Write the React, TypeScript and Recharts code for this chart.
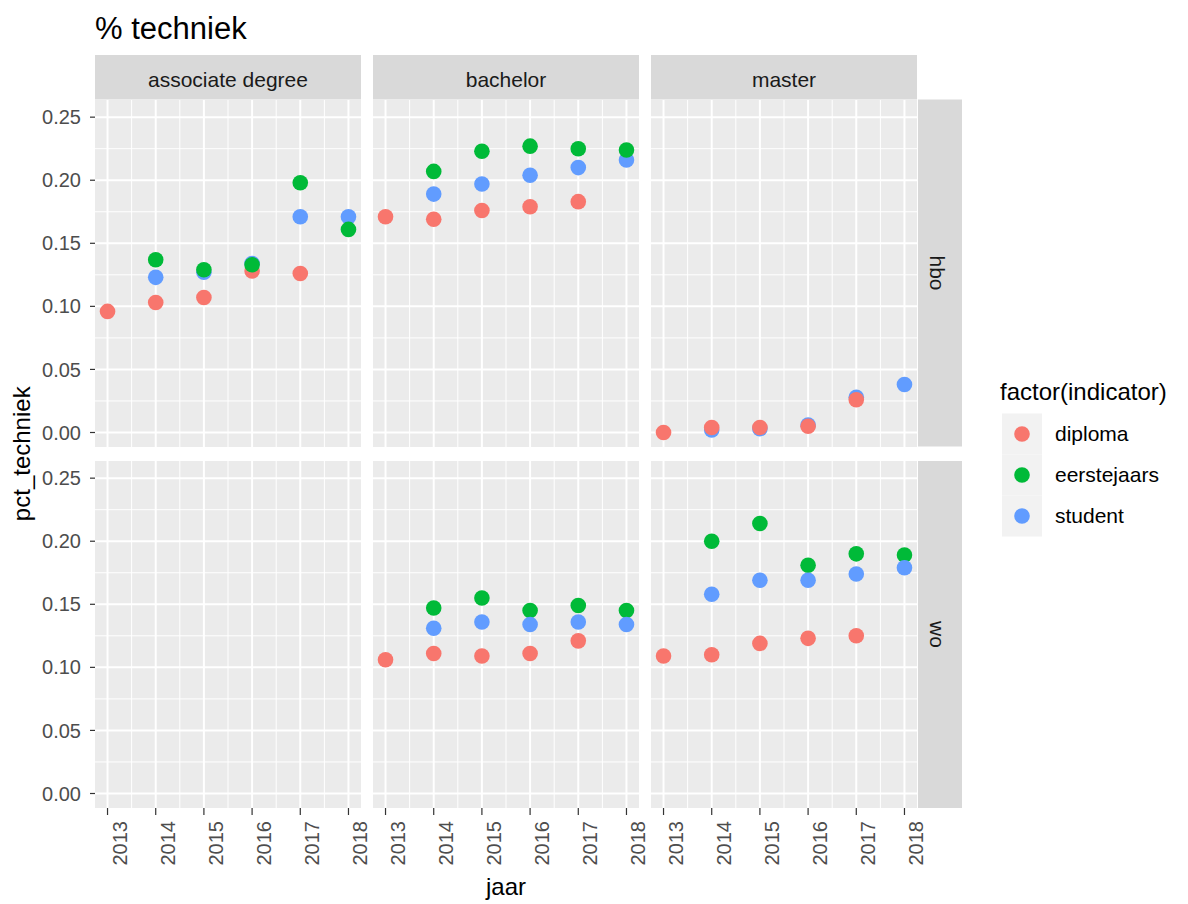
import React from 'react';
import { ScatterChart, Scatter, XAxis, YAxis, CartesianGrid } from 'recharts';

// ---------- data ----------
const years = [2013, 2014, 2015, 2016, 2017, 2018];
const yTicks = [0, 0.05, 0.1, 0.15, 0.2, 0.25];
const yMinor = [0.025, 0.075, 0.125, 0.175, 0.225];
const xMinor = [2013.5, 2014.5, 2015.5, 2016.5, 2017.5];
const levels = ['associate degree', 'bachelor', 'master'];
const sectors = ['hbo', 'wo'];
const indicators = ['diploma', 'eerstejaars', 'student'];
const colors = ['#F8766D', '#00BA38', '#619CFF'];

// values per year 2013..2018, null = no observation
const hboAdDiploma = [0.096, 0.103, 0.107, 0.128, 0.126, null];
const hboAdEerstejaars = [null, 0.137, 0.129, 0.133, 0.198, 0.161];
const hboAdStudent = [null, 0.123, 0.127, 0.134, 0.171, 0.171];
const hboBaDiploma = [0.171, 0.169, 0.176, 0.179, 0.183, null];
const hboBaEerstejaars = [null, 0.207, 0.223, 0.227, 0.225, 0.224];
const hboBaStudent = [null, 0.189, 0.197, 0.204, 0.210, 0.216];
const hboMaDiploma = [0.000, 0.004, 0.004, 0.005, 0.026, null];
const hboMaEerstejaars = [null, null, null, null, null, null];
const hboMaStudent = [null, 0.002, 0.003, 0.006, 0.028, 0.038];
const woAdDiploma = [null, null, null, null, null, null];
const woAdEerstejaars = [null, null, null, null, null, null];
const woAdStudent = [null, null, null, null, null, null];
const woBaDiploma = [0.106, 0.111, 0.109, 0.111, 0.121, null];
const woBaEerstejaars = [null, 0.147, 0.155, 0.145, 0.149, 0.145];
const woBaStudent = [null, 0.131, 0.136, 0.134, 0.136, 0.134];
const woMaDiploma = [0.109, 0.110, 0.119, 0.123, 0.125, null];
const woMaEerstejaars = [null, 0.200, 0.214, 0.181, 0.190, 0.189];
const woMaStudent = [null, 0.158, 0.169, 0.169, 0.174, 0.179];

// panel values: [row][col] -> [diploma, eerstejaars, student]
const panelValues = [
  [
    [hboAdDiploma, hboAdEerstejaars, hboAdStudent],
    [hboBaDiploma, hboBaEerstejaars, hboBaStudent],
    [hboMaDiploma, hboMaEerstejaars, hboMaStudent],
  ],
  [
    [woAdDiploma, woAdEerstejaars, woAdStudent],
    [woBaDiploma, woBaEerstejaars, woBaStudent],
    [woMaDiploma, woMaEerstejaars, woMaStudent],
  ],
];
// drawing order of indicators per row (index into indicators)
const drawOrder = [
  [2, 0, 1],
  [0, 1, 2],
];

// ---------- layout ----------
const FONT = '"Liberation Sans", Arial, sans-serif';
const colLeft = [95, 373, 651];
const rowTop = [99.5, 461];
const panelW = 266;
const panelH = 347;
const xDomain = [2012.74, 2018.26];
const yDomain = [-0.0115, 0.2636];
const stripTop = 55;
const stripRightX = 918;
const stripW = 44;
const extraRight = 24;

const toPoints = (vals) =>
  years
    .map((yr, i) => ({ x: yr, y: vals[i] }))
    .filter((d) => d.y !== null && d.y !== undefined);

const XTick = (props) => {
  const { x, y, payload } = props;
  const tx = x + 19;
  const ty = y + 6;
  return (
    <text
      x={tx}
      y={ty}
      transform={`rotate(-90, ${tx}, ${ty})`}
      textAnchor="end"
      fill="#4D4D4D"
      fontSize={20}
      fontFamily={FONT}
    >
      {payload.value}
    </text>
  );
};

const dot = (color) => (p) => <circle cx={p.cx} cy={p.cy} r={7.8} fill={color} />;

function Panel({ row, col }) {
  const isLeft = col === 0;
  const isBottom = row === 1;
  const yAxisW = isLeft ? 95 : 0;
  const xAxisH = isBottom ? 75 : 0;
  const rightM = isBottom ? extraRight : 0;
  const vals = panelValues[row][col];
  return (
    <div style={{ position: 'absolute', left: colLeft[col] - yAxisW, top: rowTop[row] }}>
      <ScatterChart
        width={panelW + yAxisW + rightM}
        height={panelH + xAxisH}
        margin={{ top: 0, right: rightM, bottom: 0, left: 0 }}
      >
        <CartesianGrid
          fill="#EBEBEB"
          fillOpacity={1}
          stroke="#FFFFFF"
          strokeWidth={1}
          horizontalValues={yMinor}
          verticalValues={xMinor}
        />
        <CartesianGrid
          stroke="#FFFFFF"
          strokeWidth={2}
          horizontalValues={yTicks}
          verticalValues={years}
        />
        <XAxis
          type="number"
          dataKey="x"
          domain={xDomain}
          ticks={years}
          interval={0}
          allowDataOverflow
          hide={!isBottom}
          height={xAxisH}
          axisLine={false}
          tickLine={{ stroke: '#333333', strokeWidth: 1.2 }}
          tickSize={7}
          tickMargin={0}
          tick={<XTick />}
        />
        <YAxis
          type="number"
          dataKey="y"
          domain={yDomain}
          ticks={yTicks}
          interval={0}
          allowDataOverflow
          hide={!isLeft}
          width={yAxisW}
          axisLine={false}
          tickLine={{ stroke: '#333333', strokeWidth: 1.2 }}
          tickSize={5}
          tickMargin={9}
          tickFormatter={(v) => v.toFixed(2)}
          tick={{ fill: '#4D4D4D', fontSize: 20, fontFamily: FONT }}
        />
        {drawOrder[row].map((k) => (
          <Scatter
            key={indicators[k]}
            name={indicators[k]}
            data={toPoints(vals[k])}
            fill={colors[k]}
            shape={dot(colors[k])}
            isAnimationActive={false}
          />
        ))}
      </ScatterChart>
    </div>
  );
}

export default function App() {
  const plotLeft = colLeft[0];
  const plotRight = colLeft[2] + panelW;
  const plotTop = rowTop[0];
  const plotBottom = rowTop[1] + panelH;
  return (
    <div
      style={{
        position: 'absolute',
        left: 0,
        top: 0,
        width: 1188,
        height: 904,
        background: '#FFFFFF',
        fontFamily: FONT,
        overflow: 'hidden',
      }}
    >
      <svg
        width={1188}
        height={904}
        style={{ position: 'absolute', left: 0, top: 0 }}
        fontFamily={FONT}
      >
        {/* title */}
        <text x={95} y={39} fontSize={31} fill="#000000">
          % techniek
        </text>
        {/* column strips */}
        {levels.map((lv, c) => (
          <g key={lv}>
            <rect x={colLeft[c]} y={stripTop} width={panelW} height={rowTop[0] - stripTop} fill="#D9D9D9" />
            <text
              x={colLeft[c] + panelW / 2}
              y={87}
              textAnchor="middle"
              fontSize={21}
              fill="#1A1A1A"
            >
              {lv}
            </text>
          </g>
        ))}
        {/* row strips */}
        {sectors.map((s, r) => {
          const cy = rowTop[r] + panelH / 2;
          const tx = stripRightX + 12;
          return (
            <g key={s}>
              <rect x={stripRightX} y={rowTop[r]} width={stripW} height={panelH} fill="#D9D9D9" />
              <text
                x={tx}
                y={cy}
                textAnchor="middle"
                fontSize={21}
                fill="#1A1A1A"
                transform={`rotate(90, ${tx}, ${cy})`}
              >
                {s}
              </text>
            </g>
          );
        })}
        {/* axis titles */}
        <text
          x={30}
          y={(plotTop + plotBottom) / 2}
          textAnchor="middle"
          fontSize={24}
          fill="#000000"
          transform={`rotate(-90, 30, ${(plotTop + plotBottom) / 2})`}
        >
          pct_techniek
        </text>
        <text x={(plotLeft + plotRight) / 2} y={895} textAnchor="middle" fontSize={24} fill="#000000">
          jaar
        </text>
        {/* legend */}
        <text x={1000} y={400} fontSize={24} fill="#000000">
          factor(indicator)
        </text>
        {indicators.map((ind, i) => {
          const ky = 413.5 + i * 41;
          return (
            <g key={ind}>
              <rect x={1002} y={ky} width={40} height={41} fill="#F2F2F2" />
              <circle cx={1022} cy={ky + 20.5} r={7.8} fill={colors[i]} />
              <text x={1055} y={ky + 20.5} dy="0.35em" fontSize={21} fill="#000000">
                {ind}
              </text>
            </g>
          );
        })}
      </svg>
      {[0, 1].map((r) => [0, 1, 2].map((c) => <Panel key={`${r}-${c}`} row={r} col={c} />))}
    </div>
  );
}
